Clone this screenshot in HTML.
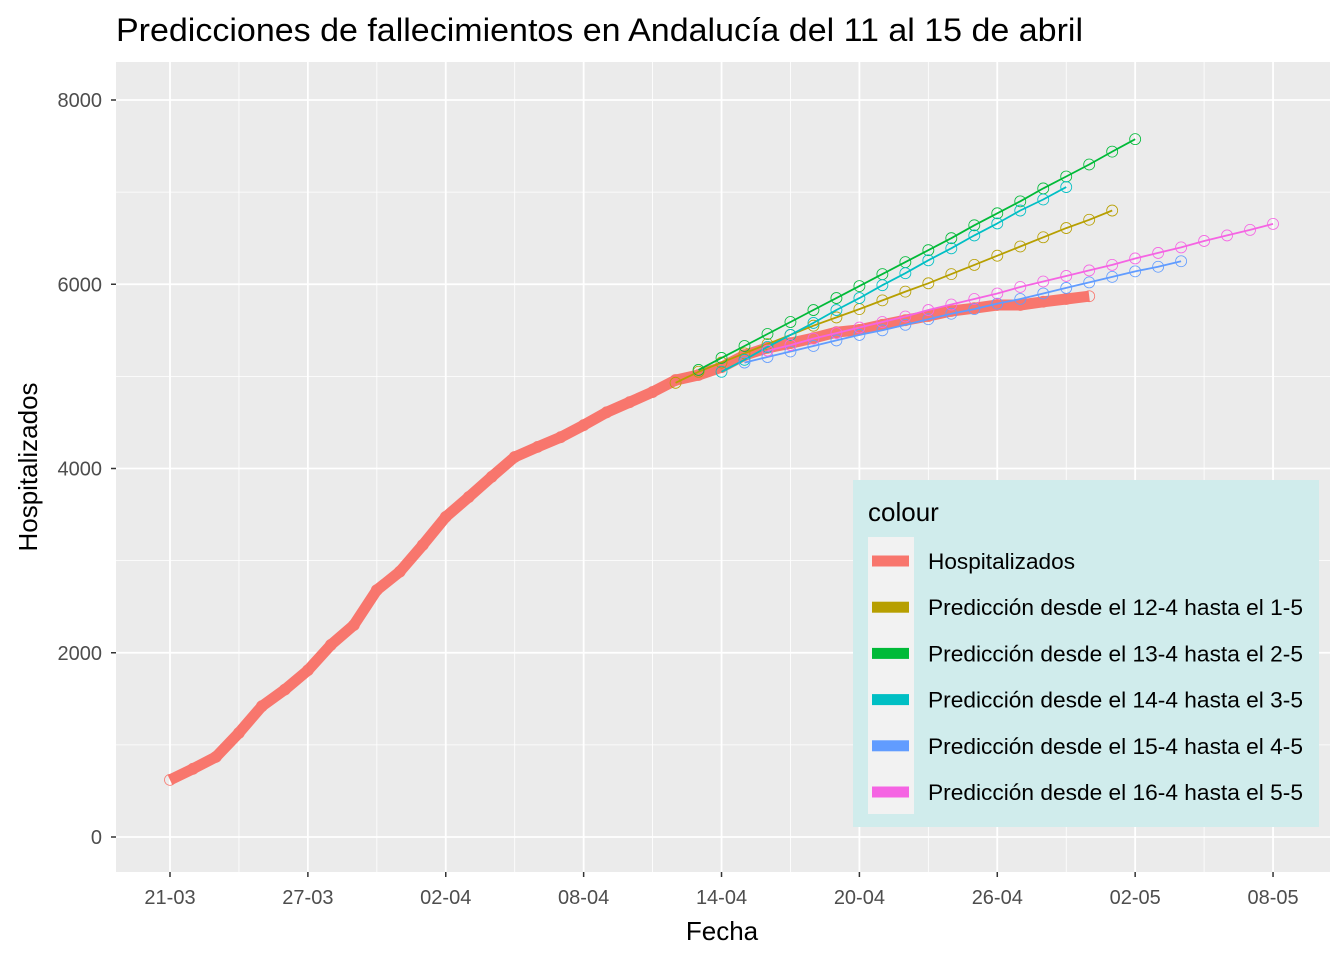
<!DOCTYPE html>
<html><head><meta charset="utf-8">
<style>
body{margin:0;background:#fff;}
svg text{font-family:"Liberation Sans",Arial,sans-serif;}
</style></head>
<body>
<svg id="chart" width="1344" height="960" xmlns="http://www.w3.org/2000/svg">
<text x="116" y="41" font-size="32" textLength="967" lengthAdjust="spacingAndGlyphs" fill="#000">Predicciones de fallecimientos en Andalucía del 11 al 15 de abril</text>
<rect x="116" y="62" width="1214" height="810" fill="#ebebeb"/>
<g id="grid"></g>
<g id="series"></g>
<g id="axes"></g>
<text x="722" y="940" font-size="26" text-anchor="middle" fill="#000">Fecha</text>
<text transform="translate(37,467) rotate(-90)" font-size="26" text-anchor="middle" fill="#000">Hospitalizados</text>
<g>
<rect x="853" y="480" width="466" height="347" fill="#d0ecec"/>
<text x="868" y="521" font-size="26" fill="#000">colour</text>
<rect x="868" y="537" width="46" height="277" fill="#f2f2f2"/>
<g id="legend-items"></g>
</g>
</svg>
<script>
const startDay = [0, 22, 23, 24, 25, 26];
const seriesNames = ["Hospitalizados","Predicción desde el 12-4 hasta el 1-5","Predicción desde el 13-4 hasta el 2-5","Predicción desde el 14-4 hasta el 3-5","Predicción desde el 15-4 hasta el 4-5","Predicción desde el 16-4 hasta el 5-5"];
const seriesColors = ["#f8766d","#b79f00","#00ba38","#00bfc4","#619cff","#f564e3"];
const hospitalizados = [620,740,870,1130,1420,1600,1810,2085,2300,2680,2880,3170,3475,3690,3910,4125,4235,4340,4470,4610,4720,4830,4960,5015,5100,5230,5310,5360,5415,5480,5505,5560,5610,5655,5710,5740,5775,5775,5810,5840,5870];
const pred12 = [4930,5050,5150,5250,5350,5450,5550,5640,5730,5825,5920,6010,6110,6210,6310,6410,6510,6610,6700,6800];
const pred13 = [5070,5200,5330,5460,5590,5720,5850,5980,6110,6240,6370,6500,6640,6770,6900,7040,7170,7300,7440,7575];
const pred14 = [5050,5180,5320,5450,5580,5720,5850,5990,6120,6260,6390,6530,6660,6800,6920,7055];
const pred15 = [5150,5210,5270,5330,5390,5450,5500,5560,5620,5680,5730,5790,5840,5900,5960,6020,6080,6140,6190,6250];
const pred16 = [5280,5340,5410,5470,5530,5590,5650,5720,5780,5840,5900,5970,6030,6090,6150,6210,6280,6340,6400,6470,6530,6590,6655];
const xTickLabels = ["21-03","27-03","02-04","08-04","14-04","20-04","26-04","02-05","08-05"];
const xTickDays = [0,6,12,18,24,30,36,42,48];
const yTicks = [0,2000,4000,6000,8000];

const NS="http://www.w3.org/2000/svg";
const X = d => 170 + d*22.98;
const Y = v => 837 - v*0.092125;
function mk(tag, attrs, parent){const e=document.createElementNS(NS,tag);for(const k in attrs)e.setAttribute(k,attrs[k]);parent.appendChild(e);return e;}
const grid=document.getElementById('grid'), axes=document.getElementById('axes'), ser=document.getElementById('series');

for(let v=1000; v<=7000; v+=2000){const l=mk('line',{x1:116,x2:1330,y1:Y(v),y2:Y(v),stroke:'#fff','stroke-width':0.8},grid);

}
for(let d=3; d<=45; d+=6){const l=mk('line',{x1:X(d),x2:X(d),y1:62,y2:872,stroke:'#fff','stroke-width':0.8},grid);

}
yTicks.forEach(v=>{
  const l=mk('line',{x1:116,x2:1330,y1:Y(v),y2:Y(v),stroke:'#fff','stroke-width':1.8},grid);
  
  
  const t=mk('line',{x1:111,x2:116,y1:Y(v),y2:Y(v),stroke:'#333','stroke-width':1.5},axes);
  
  
  const tx=mk('text',{x:102,y:Y(v)+7,'font-size':20,'text-anchor':'end',fill:'#4d4d4d'},axes);
  tx.textContent=v;
  
  
});
xTickDays.forEach((d,i)=>{
  const l=mk('line',{x1:X(d),x2:X(d),y1:62,y2:872,stroke:'#fff','stroke-width':1.8},grid);
  
  
  const t=mk('line',{x1:X(d),x2:X(d),y1:872,y2:877,stroke:'#333','stroke-width':1.5},axes);
  
  
  const tx=mk('text',{x:X(d),y:904,'font-size':20,'text-anchor':'middle',fill:'#4d4d4d'},axes);
  tx.textContent=xTickLabels[i];
  
  
});

const allSeries=[hospitalizados,pred12,pred13,pred14,pred15,pred16];
allSeries.forEach((vals,si)=>{
  if(si===0){
    vals.forEach((v,i)=>{
      const c=mk('circle',{cx:X(startDay[si]+i),cy:Y(v),r:5.5,fill:'none',stroke:seriesColors[si],'stroke-width':0.8},ser);
      
      
    });
  }
  const pts=vals.map((v,i)=>X(startDay[si]+i).toFixed(1)+','+Y(v).toFixed(1)).join(' ');
  const p=mk('polyline',{points:pts,fill:'none',stroke:seriesColors[si],'stroke-width':si===0?11:1.8,'stroke-linejoin':'round'},ser);
  
  
  if(si>0){
    vals.forEach((v,i)=>{
      const c=mk('circle',{cx:X(startDay[si]+i),cy:Y(v),r:5.5,fill:'none',stroke:seriesColors[si],'stroke-width':0.8},ser);
      
      
    });
  }
});

const legendWidths=[147,375,375,375,375,375];
const li=document.getElementById('legend-items');
seriesNames.forEach((n,i)=>{
  const y=561+i*46.2;
  const r=mk('rect',{x:872,y:y-5.5,width:37,height:11,fill:seriesColors[i]},li);
  
  
  const t=mk('text',{x:928,y:y+8,'font-size':22,fill:'#000',textLength:legendWidths[i],lengthAdjust:'spacingAndGlyphs'},li);
  t.textContent=n;
  
  
});
</script>
</body></html>
